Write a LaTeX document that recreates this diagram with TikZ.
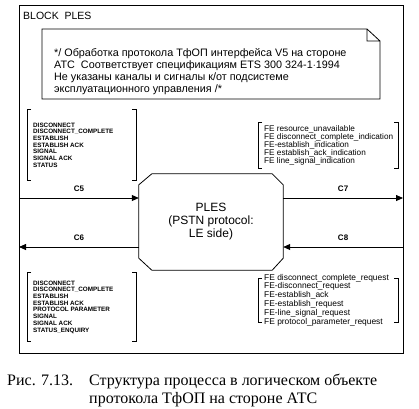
\documentclass[tikz,border=0pt]{standalone}
\usepackage{fontspec}
\setmainfont{Liberation Serif}
\setsansfont{Liberation Sans}
\usetikzlibrary{arrows.meta}
\tikzset{
  frame/.style={line width=.8pt},
  chan/.style={line width=.8pt,-{Triangle[length=7pt,width=6pt]}},
  chanlabel/.style={font=\sffamily\bfseries\fontsize{8}{9}\selectfont,above=3pt},
  sigcaps/.style={anchor=west,align=left,inner sep=0pt,
    font=\sffamily\bfseries\fontsize{6.3}{6.7}\selectfont},
  sigfe/.style={anchor=west,align=left,inner sep=0pt,
    font=\sffamily\fontsize{8.2}{8}\selectfont},
  captext/.style={anchor=base west,inner sep=0pt,font=\fontsize{16}{18}\selectfont},
}
% bracket round a signal list: x1,y1,x2,y2
\newcommand{\sigbracket}[4]{%
  \draw[frame] (#1+4,#2)--(#1,#2)--(#1,#4)--(#1+4,#4)
               (#3-4,#2)--(#3,#2)--(#3,#4)--(#3-4,#4);}
\begin{document}
\begin{tikzpicture}[x=1pt,y=-1pt]
\useasboundingbox (0,0) rectangle (419,408);
%block%
\draw[frame] (19,5) rectangle (403,353);
\node[anchor=west,inner sep=0pt,font=\sffamily\fontsize{10.5}{12}\selectfont] (blockname) at (23,16) {BLOCK\ \ PLES};
%comment%
\draw[frame] (42,29)--(367,29)--(380,41)--(380,99)--(42,99)--cycle
  (367,29)--(367,41)--(380,41);
\node[anchor=north west,align=left,inner sep=0pt,font=\sffamily\fontsize{10.8}{12.2}\selectfont] (comment) at (54,48)
  {*/ Обработка протокола ТфОП интерфейса V5 на стороне\\
   АТС\ \ Соответствует спецификациям ETS 300 324-1$\cdot$1994\\
   Не указаны каналы и сигналы к/от подсистеме\\
   эксплуатационного управления /*};
%process%
\node[minimum width=144pt,minimum height=96pt,inner sep=0pt,align=center,
  font=\sffamily\fontsize{12}{13}\selectfont] (ples) at (211,222)
  {PLES\\(PSTN protocol:\\LE side)};
\draw[frame] ([xshift=13pt]ples.north west) -- ([xshift=-11pt]ples.north east)
  -- ([yshift=-11pt]ples.north east) -- ([yshift=12pt]ples.south east)
  -- ([xshift=-11pt]ples.south east) -- ([xshift=13pt]ples.south west)
  -- ([yshift=12pt]ples.south west) -- ([yshift=-11pt]ples.north west) -- cycle;
%channels%
\coordinate (c5) at (19,198);
\coordinate (c6) at (19,247);
\coordinate (c7) at (403,198);
\coordinate (c8) at (403,247);
\draw[chan] (c5) -- (c5 -| ples.west) node[chanlabel,midway] {C5};
\draw[chan] (c6 -| ples.west) -- (c6) node[chanlabel,midway] {C6};
\draw[chan] (c7 -| ples.east) -- (c7) node[chanlabel,midway] {C7};
\draw[chan] (c8) -- (c8 -| ples.east) node[chanlabel,midway] {C8};
%signals%
\sigbracket{27}{109}{136}{180}
\node[sigcaps] (c5sig) at (33,145) {DISCONNECT\\DISCONNECT\_COMPLETE\\ESTABLISH\\ESTABLISH ACK\\SIGNAL\\SIGNAL ACK\\STATUS};
\sigbracket{27}{272}{136}{341}
\node[sigcaps] (c6sig) at (33,307) {DISCONNECT\\DISCONNECT\_COMPLETE\\ESTABLISH\\ESTABLISH ACK\\PROTOCOL PARAMETER\\SIGNAL\\SIGNAL ACK\\STATUS\_ENQUIRY};
\sigbracket{258}{122}{398}{168}
\node[sigfe] (c7sig) at (264,145) {FE resource\_unavailable\\FE disconnect\_complete\_indication\\FE-establish\_indication\\FE establish\_ack\_indication\\FE line\_signal\_indication};
\sigbracket{258}{278}{398}{322}
\node[sigfe,font=\sffamily\fontsize{8.4}{7.1}\selectfont] (c8sig) at (264,300) {FE disconnect\_complete\_request\\FE-disconnect\_request\\FE-establish\_ack\\FE-establish\_request\\FE-line\_signal\_request\\FE protocol\_parameter\_request};
%caption%
\node[captext] (fignum) at (7,385) {Рис. 7.13.};
\node[captext] (figline1) at (89,385) {Структура процесса в логическом объекте};
\node[captext] (figline2) at (89,403) {протокола ТфОП на стороне АТС};
\end{tikzpicture}
\end{document}
